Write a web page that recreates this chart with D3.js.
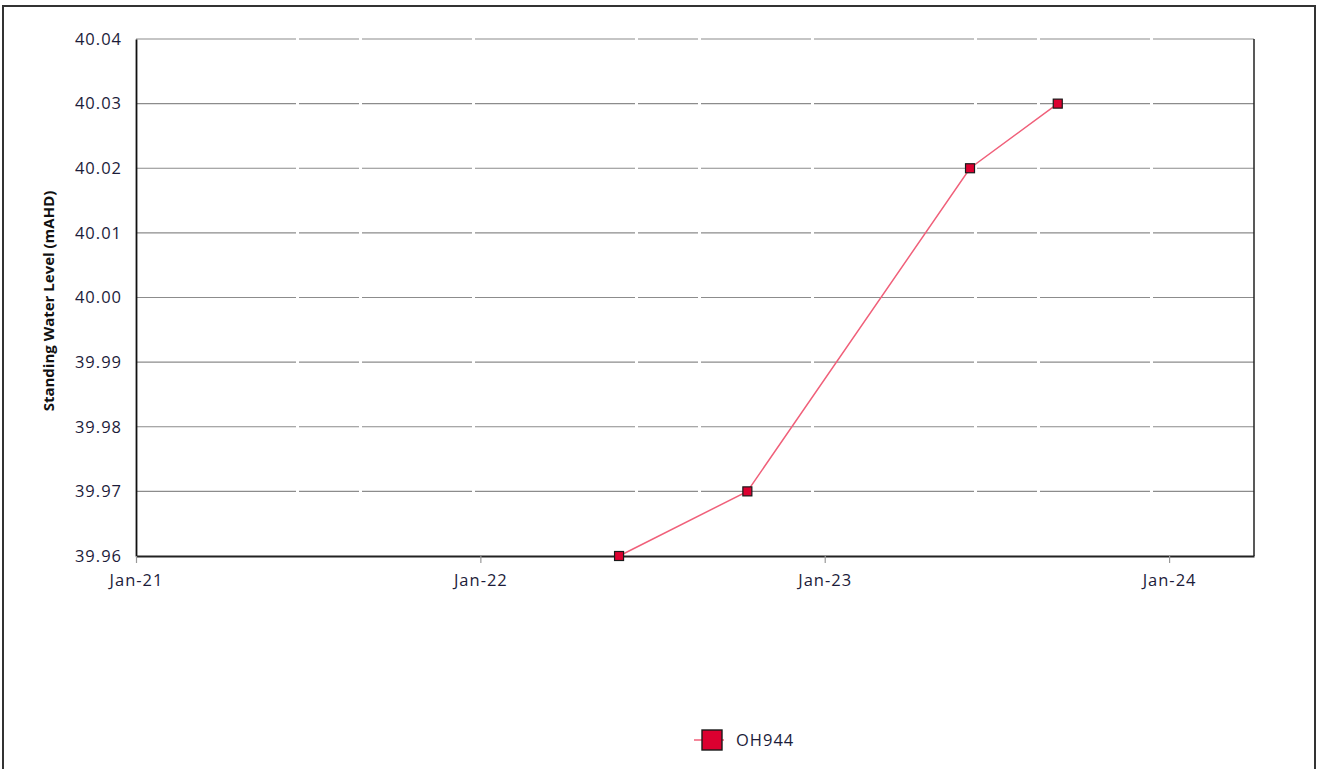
<!DOCTYPE html>
<html><head><meta charset="utf-8">
<script src="https://cdn.jsdelivr.net/npm/d3@7/dist/d3.min.js"></script>
<style>body{margin:0;background:#fff;}svg{display:block;}</style>
</head><body>
<svg id="c" width="1320" height="769"></svg>
<script>
const seriesName = "OH944";
const dates = ["2022-05-28", "2022-10-11", "2023-06-04", "2023-09-05"];
const values = [39.96, 39.97, 40.02, 40.03];
const yTicks = [39.96, 39.97, 39.98, 39.99, 40.00, 40.01, 40.02, 40.03, 40.04];
const xTickDates = ["2021-01-01", "2022-01-01", "2023-01-01", "2024-01-01"];
const xTickLabels = ["Jan-21", "Jan-22", "Jan-23", "Jan-24"];

const parse = d3.timeParse("%Y-%m-%d");
const data = dates.map((d, i) => ({ date: parse(d), value: values[i] }));

const svg = d3.select("#c");
const L = 136, R = 1254, T = 39, B = 556;
const font = "'Open Sans', 'Noto Sans', sans-serif";
const textColor = "#1c1c3a";

// outer border
svg.append("rect").attr("x", 3).attr("y", 6).attr("width", 1312).attr("height", 780)
  .attr("fill", "none").attr("stroke", "#333").attr("stroke-width", 2);

const x = d3.scaleTime().domain([parse("2021-01-01"), parse("2024-03-31")]).range([L, R]);
const y = d3.scaleLinear().domain([39.96, 40.04]).range([B, T]);

// gridlines
svg.append("g").selectAll("line").data(yTicks.slice(1)).join("line")
  .attr("x1", L).attr("x2", R).attr("y1", d => y(d)).attr("y2", d => y(d))
  .attr("stroke", "#8c8c8c").attr("stroke-width", 1.2)
  .attr("stroke-dasharray", "160,3,60,3,110,3");

// right border
svg.append("line").attr("x1", R).attr("x2", R).attr("y1", T).attr("y2", B)
  .attr("stroke", "#222").attr("stroke-width", 1.5);

// y axis
const yAxis = svg.append("g").attr("transform", `translate(${L},0)`)
  .call(d3.axisLeft(y).tickValues(yTicks).tickFormat(d3.format(".2f")).tickSize(0).tickPadding(14));
yAxis.select(".domain").attr("stroke", "#111").attr("stroke-width", 1.8);
yAxis.selectAll("text").attr("font-family", font).attr("font-size", 16.5)
  .attr("letter-spacing", 1).attr("fill", textColor);

// x axis
const xAxis = svg.append("g").attr("transform", `translate(0,${B})`)
  .call(d3.axisBottom(x).tickValues(xTickDates.map(parse))
    .tickFormat((d, i) => xTickLabels[i]).tickSize(7).tickSizeOuter(0).tickPadding(11));
xAxis.select(".domain").attr("stroke", "#222").attr("stroke-width", 2);
xAxis.selectAll(".tick line").attr("stroke", "#999").attr("stroke-width", 1.2);
xAxis.selectAll("text").attr("font-family", font).attr("font-size", 16.5)
  .attr("letter-spacing", 1).attr("fill", textColor);

// y label
svg.append("text").attr("transform", `translate(54,301) rotate(-90)`)
  .attr("text-anchor", "middle").attr("font-family", font).attr("font-size", 15)
  .attr("font-weight", "bold").attr("fill", "#111").text("Standing Water Level (mAHD)");

// line
const line = d3.line().x(d => x(d.date)).y(d => y(d.value));
svg.append("path").datum(data).attr("d", line).attr("fill", "none")
  .attr("stroke", "#f0607a").attr("stroke-width", 1.5);

// markers
svg.append("g").selectAll("rect").data(data).join("rect")
  .attr("x", d => x(d.date) - 4.5).attr("y", d => y(d.value) - 4.5)
  .attr("width", 9).attr("height", 9)
  .attr("fill", "#dc0030").attr("stroke", "#1a1a1a").attr("stroke-width", 1.2);

// legend
const lg = svg.append("g").attr("transform", "translate(712,740)");
lg.append("line").attr("x1", -18).attr("x2", 12).attr("y1", 0).attr("y2", 0)
  .attr("stroke", "#f0607a").attr("stroke-width", 1.5);
lg.append("rect").attr("x", -10).attr("y", -10).attr("width", 20).attr("height", 20)
  .attr("fill", "#dc0030").attr("stroke", "#1a1a1a").attr("stroke-width", 1.4);
lg.append("text").attr("x", 24).attr("y", 0).attr("dy", "0.35em")
  .attr("font-family", font).attr("font-size", 16.5).attr("letter-spacing", 1)
  .attr("fill", textColor).text(seriesName);
</script>
</body></html>
